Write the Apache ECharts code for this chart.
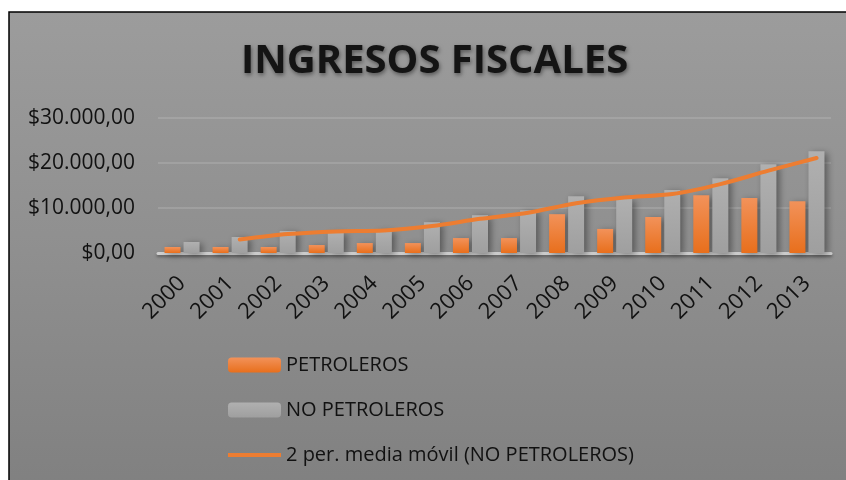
<!DOCTYPE html>
<html>
<head>
<meta charset="utf-8">
<script src="https://cdn.jsdelivr.net/npm/echarts@6/dist/echarts.min.js"></script>
<style>
  html, body { margin: 0; padding: 0; background: #fff; }
  #ingresos { width: 846px; height: 480px; }
</style>
</head>
<body>
<div id="ingresos"></div>
<script>
var echart_ingresos = echarts.init(document.getElementById('ingresos'));

var years = ['2000','2001','2002','2003','2004','2005','2006','2007','2008','2009','2010','2011','2012','2013'];
var petroleros    = [1330, 1330, 1330, 1770, 2210, 2210, 3320, 3320, 8630, 5350, 8000, 12850, 12200, 11500];
var no_petroleros = [2450, 3550, 4900, 4650, 5100, 6850, 8400, 9500, 12600, 12100, 14000, 16600, 19700, 22600];
// media movil (empieza en 2001)
var media_movil   = [null, 3000, 4200, 4800, 5000, 6000, 7600, 8950, 11050, 12350, 13100, 15300, 18300, 21100];
var y_ticks = [0, 10000, 20000, 30000];

function fmt_money(v) {
    var s = String(Math.round(v)).replace(/\B(?=(\d{3})+(?!\d))/g, '.');
    return '$' + s + ',00';
}

// la linea va sobre el centro de la barra gris
function handledata_media() {
    var out = [];
    for (var i = 0; i < media_movil.length; i++) {
        if (media_movil[i] == null) continue;
        out.push([i + 0.2, media_movil[i]]);
    }
    return out;
}

var font = '"Open Sans", "Noto Sans", sans-serif';

var option = {
    backgroundColor: '#ffffff',
    animation: false,
    graphic: [
        {
            type: 'rect', z: -10, silent: true,
            shape: { x: 9, y: 12, width: 850, height: 480 },
            style: {
                fill: new echarts.graphic.LinearGradient(0, 0, 0, 1, [
                    { offset: 0, color: '#9c9c9c' },
                    { offset: 0.5, color: '#8f8f8f' },
                    { offset: 1, color: '#808080' }
                ]),
                stroke: '#000', lineWidth: 1.5
            }
        },
        {
            type: 'text', left: 20, top: -16, silent: true,
            style: { text: '2000- 2013.', font: '19px "Liberation Mono", monospace', fill: '#111' }
        }
    ],
    title: {
        text: 'INGRESOS FISCALES',
        left: 236,
        top: 37,
        textStyle: {
            fontFamily: font, fontWeight: 'bold', fontSize: 40, color: '#141414',
            textShadowColor: 'rgba(0,0,0,0.45)', textShadowBlur: 4, textShadowOffsetX: 1, textShadowOffsetY: 2
        }
    },
    legend: {
        orient: 'vertical',
        left: 223,
        top: 350,
        itemWidth: 53,
        itemHeight: 15,
        itemGap: 25,
        textStyle: { fontFamily: font, fontSize: 20, color: '#111' },
        data: [
            'PETROLEROS',
            'NO PETROLEROS',
            { name: '2 per. media móvil (NO PETROLEROS)', icon: 'path://M0 0 L0.01 0 M0 5.5 L53 5.5 L53 9.5 L0 9.5 Z M0 15 L0.01 15' }
        ]
    },
    grid: { left: 158, right: 15, top: 118, bottom: 227 },
    xAxis: [
        {
            type: 'category',
            data: years,
            axisLine: { lineStyle: { color: '#cfcfcf', width: 3, shadowColor: 'rgba(0,0,0,0.35)', shadowBlur: 3, shadowOffsetY: 2 } },
            axisTick: { show: false },
            axisLabel: { rotate: 45, margin: 27, fontFamily: font, fontSize: 22, color: '#111' }
        },
        { type: 'value', min: -0.5, max: 13.5, show: false }
    ],
    yAxis: {
        type: 'value',
        min: 0, max: 30000, interval: 10000,
        axisLine: { show: false },
        axisTick: { show: false },
        splitLine: { lineStyle: { color: 'rgba(255,255,255,0.13)', width: 2 } },
        axisLabel: {
            margin: 23, fontFamily: font, fontSize: 21, color: '#111',
            formatter: function (v) { return y_ticks.indexOf(v) >= 0 ? fmt_money(v) : ''; }
        }
    },
    series: [
        {
            name: 'PETROLEROS',
            type: 'bar',
            barWidth: 16,
            barGap: '19%',
            data: petroleros,
            itemStyle: {
                color: new echarts.graphic.LinearGradient(0, 0, 0, 1, [
                    { offset: 0, color: '#f2925a' },
                    { offset: 1, color: '#e86f1c' }
                ]),
                shadowColor: 'rgba(0,0,0,0.4)', shadowBlur: 7, shadowOffsetX: 3, shadowOffsetY: 2
            }
        },
        {
            name: 'NO PETROLEROS',
            type: 'bar',
            barWidth: 16,
            data: no_petroleros,
            itemStyle: {
                color: new echarts.graphic.LinearGradient(0, 0, 0, 1, [
                    { offset: 0, color: '#b0b0b0' },
                    { offset: 1, color: '#9f9f9f' }
                ]),
                shadowColor: 'rgba(0,0,0,0.4)', shadowBlur: 7, shadowOffsetX: 3, shadowOffsetY: 2
            }
        },
        {
            name: '2 per. media móvil (NO PETROLEROS)',
            type: 'line',
            xAxisIndex: 1,
            smooth: 0.3,
            symbol: 'none',
            data: handledata_media(),
            itemStyle: { color: '#ed7d31' },
            lineStyle: { color: '#ed7d31', width: 4, cap: 'round' },
            z: 5
        }
    ]
};

echart_ingresos.setOption(option);
</script>
</body>
</html>
